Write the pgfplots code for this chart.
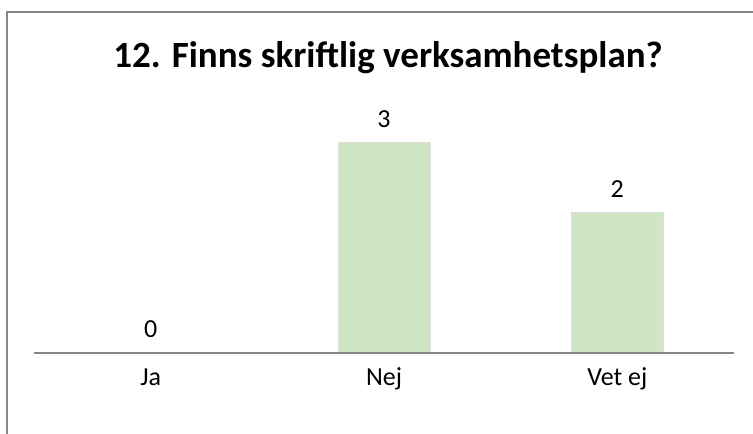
\documentclass[border=0pt]{standalone}
\usepackage{pgfplots}
\pgfplotsset{compat=1.18}
\usepackage{fontspec}
\setmainfont{Carlito}
\definecolor{barfill}{RGB}{207,230,196}
\definecolor{baredge}{RGB}{222,222,222}
\definecolor{framegray}{RGB}{134,134,134}
\begin{document}
\begin{tikzpicture}[x=1pt,y=1pt]
\useasboundingbox (0,0) rectangle (753,434);
% outer chart frame
\draw[framegray, line width=1.5pt] (7,-5) -- (7,422) -- (760,422);
\node[font=\bfseries\fontsize{37}{44}\selectfont] at (388,376) {12. Finns skriftlig verksamhetsplan?};
\begin{axis}[
    at={(34pt,81pt)}, anchor=south west,
    scale only axis, width=700pt, height=245pt,
    xmin=-0.5, xmax=2.5, ymin=0, ymax=3.5,
    enlargelimits=false,
    ybar, bar width=92pt,
    axis x line*=bottom, axis y line=none,
    x axis line style={draw=none},
    xtick={0,1,2}, xticklabels={Ja,Nej,Vet ej},
    major tick length=0pt, ytick=\empty,
    /pgf/number format/assume math mode=true,
    xticklabel style={font=\fontsize{26}{31}\selectfont, anchor=base, yshift=-33pt},
    nodes near coords,
    every node near coord/.append style={font=\fontsize{26}{31}\selectfont, anchor=center, yshift=24pt},
    clip=false,
]
\addplot[fill=barfill, draw=baredge, line width=1pt] coordinates {(0,0) (1,3) (2,2)};
\draw[framegray, line width=1.5pt] (axis cs:-0.5,0) -- (axis cs:2.5,0);
\end{axis}
\end{tikzpicture}
\end{document}
